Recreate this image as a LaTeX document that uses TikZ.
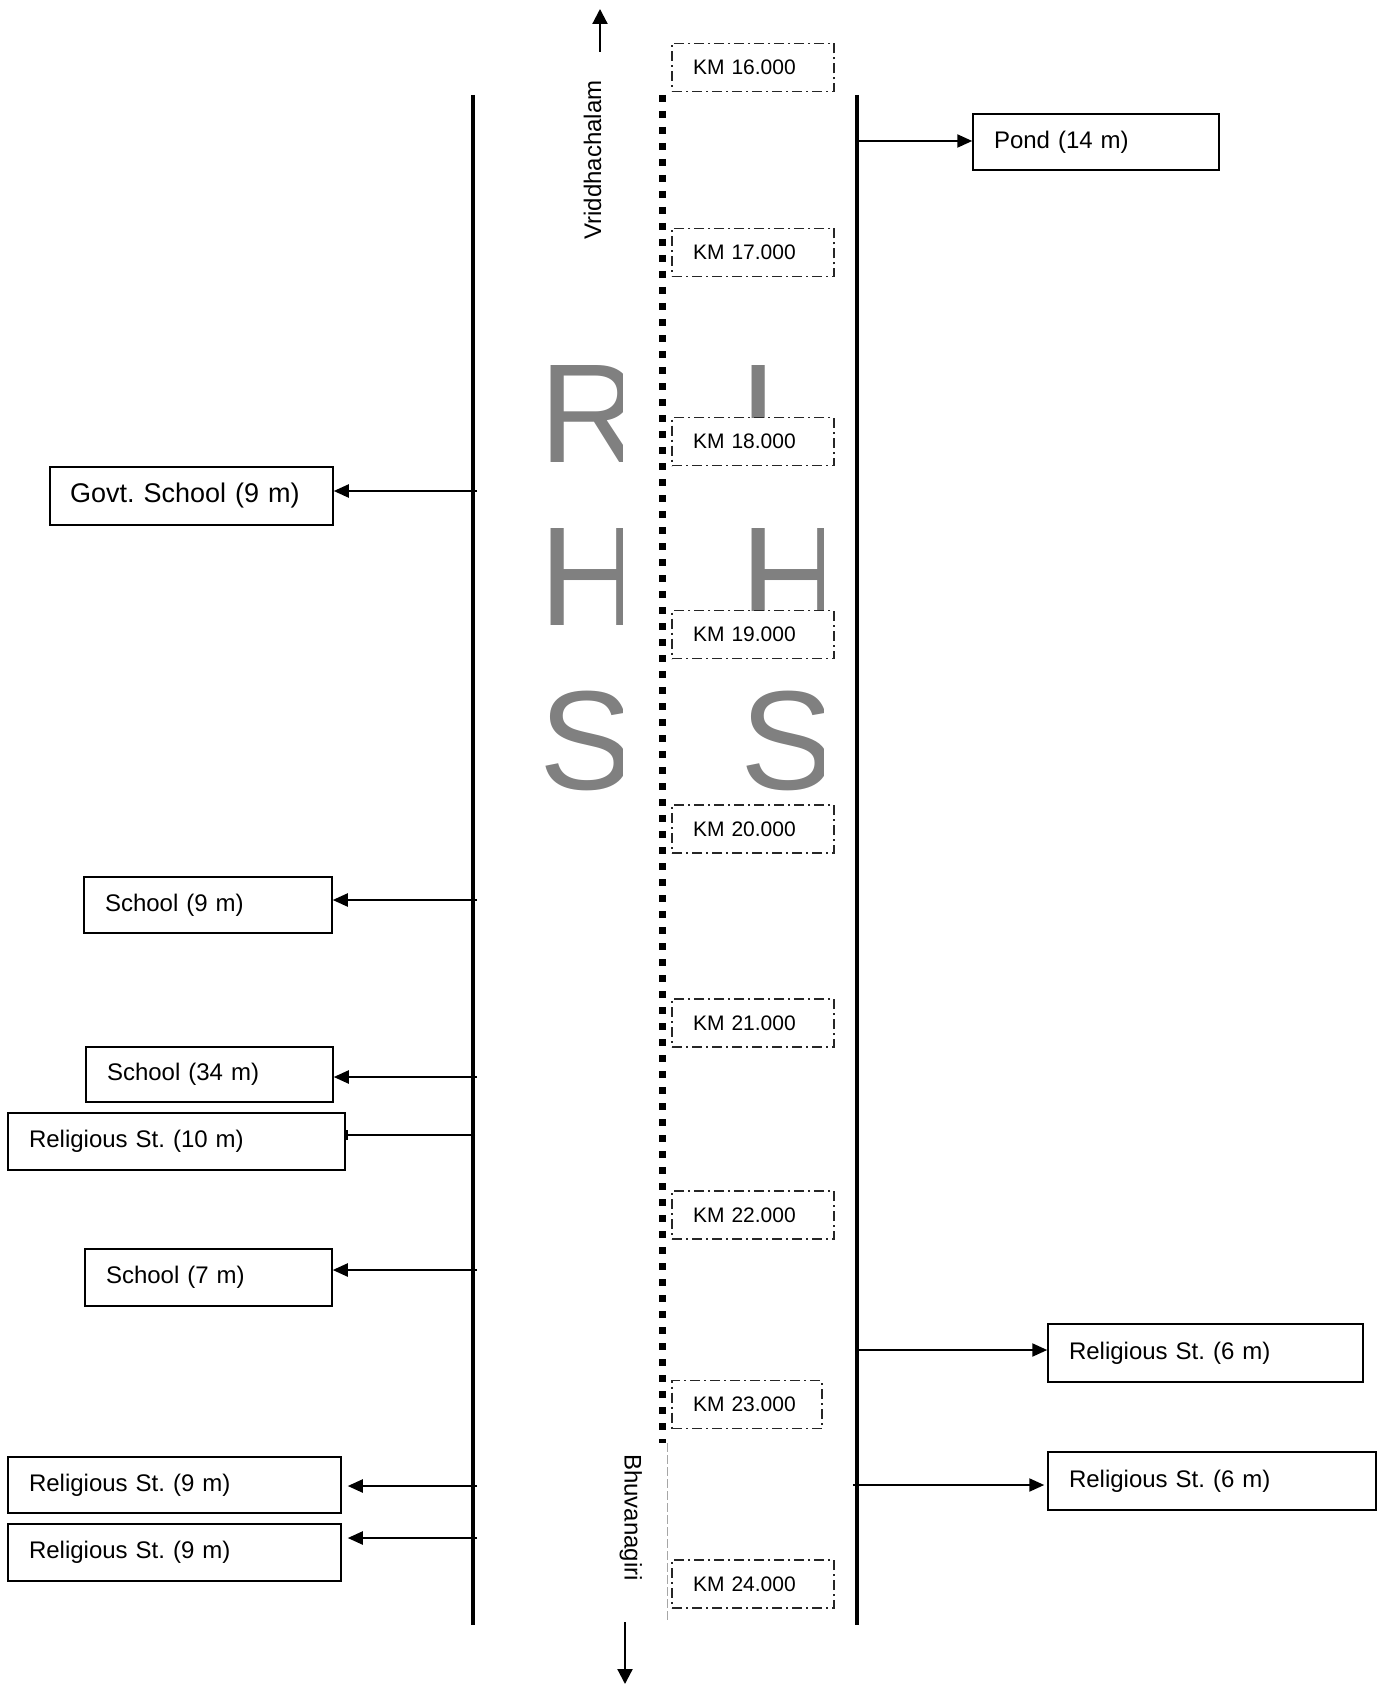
\documentclass[tikz,border=0pt]{standalone}
\usepackage{fontspec}
\setmainfont{Liberation Sans}
\usetikzlibrary{arrows.meta}
\frenchspacing

\begin{document}
\begin{tikzpicture}[x=1pt,y=-1pt,
  road/.style={line width=4pt},
  arr/.style={line width=2.2pt,-{Triangle[length=15pt,width=13pt]}},
  box/.style={draw,line width=1.5pt,inner xsep=21pt,inner ysep=0pt,minimum height=56pt,align=left,font=\fontsize{24}{28}\selectfont},
  km/.style={draw=black!85,fill=white,line width=1.2pt,dash pattern=on 10pt off 4pt on 2pt off 4pt,inner xsep=21pt,inner ysep=0pt,text width=120pt,minimum height=48pt,align=left,font=\fontsize{21}{25}\selectfont},
  big/.style={text=black!50,inner sep=0pt,anchor=base west,font=\fontsize{141}{160}\selectfont}]
\useasboundingbox (0,0) rectangle (1381,1685);

\coordinate (LT) at (473,95);
\coordinate (LB) at (473,1625);
\coordinate (RT) at (857,95);
\coordinate (RB) at (857,1625);
\coordinate (MT) at (662.5,95);
\coordinate (MB) at (662.5,1443);
\coordinate (ME) at (667,1622);
\coordinate (MG) at (667,1443);

\draw[road] (LT) -- (LB);
\draw[road] (RT) -- (RB);
\draw[line width=7pt,dash pattern=on 7pt off 9pt] (MT) -- (MB);% median
\draw[black!35,line width=1pt,dash pattern=on 9pt off 3pt] (MG) -- (ME);

% RHS and LHS
\begin{scope}
\clip (530,300) rectangle (622,820);
\foreach \c/\y in {R/462,H/625,S/789}
  \node[big] (r\c) at (539,\y) {\c};
\end{scope}
\begin{scope}
\clip (730,300) rectangle (823,820);
\foreach \c/\y in {L/462,H/625,S/789}
  \node[big] (l\c) at (740,\y) {\c};
\end{scope}

\foreach \k/\y in {16/67.5,17/252.5,18/441.5,19/634.5,20/829,21/1023,22/1215,24/1584}
  \node[km] (km\k) at (753,\y) {KM \k.000};
\node[km,text width=108pt] (km23) at (747,1404.5) {KM 23.000};

\node[rotate=90,inner sep=0pt,font=\fontsize{24}{28}\selectfont] (VR) at (592.5,160) {Vriddhachalam};
\node[rotate=-90,inner sep=0pt,font=\fontsize{24}{28}\selectfont] (BH) at (630.7,1517.5) {Bhuvanagiri};

\coordinate (U0) at (600,52);
\coordinate (U1) at (600,9);
\coordinate (D0) at (625,1622);
\coordinate (D1) at (625,1684);
\draw[arr,-{Triangle[length=15pt,width=15pt]}] (U0) -- (U1);
\draw[arr,-{Triangle[length=15pt,width=15pt]}] (D0) -- (D1);

% left side
\node[box,inner xsep=20pt,text width=243pt,minimum height=58pt,font=\fontsize{27}{31}\selectfont] (GS) at (191.5,496) {Govt. School (9 m)};
\node[box,text width=206pt] (S1) at (208,905) {School (9 m)};
\node[box,text width=205pt,minimum height=55pt] (S2) at (209.5,1074.5) {School (34 m)};
\node[box,text width=295pt,minimum height=57pt] (R1) at (176.5,1141.5) {Religious St. (10 m)};
\node[box,text width=205pt,minimum height=57pt] (S3) at (208.5,1277.5) {School (7 m)};
\node[box,text width=291pt] (R2) at (174.5,1485) {Religious St. (9 m)};
\node[box,text width=291pt,minimum height=57pt] (R3) at (174.5,1552.5) {Religious St. (9 m)};

% right side
\node[box,text width=204pt] (P) at (1096,142) {Pond (14 m)};
\node[box,text width=273pt,minimum height=58pt] (R4) at (1205.5,1353) {Religious St. (6 m)};
\node[box,text width=286pt,minimum height=58pt] (R5) at (1212,1481) {Religious St. (6 m)};

\foreach \y/\b in {491/GS,900/S1,1077/S2,1270/S3}{
  \coordinate (c\b) at (477,\y);
  \draw[arr] (c\b) -- (c\b -| \b.east);
}
\foreach \y/\b in {1486/R2,1538/R3}{
  \coordinate (c\b) at (477,\y);
  \draw[arr,shorten >=6pt] (c\b) -- (c\b -| \b.east);
}
\coordinate (cR1) at (475,1135);
\draw[line width=2.2pt,-{Bar[width=10pt]}] (cR1) -- (cR1 -| R1.east);

\coordinate (cP) at (857,141);
\coordinate (cR4) at (857,1350);
\coordinate (cR5) at (853,1485);
\draw[arr] (cP) -- (cP -| P.west);
\draw[arr] (cR4) -- (cR4 -| R4.west);
\draw[arr,shorten >=3pt] (cR5) -- (cR5 -| R5.west);

\end{tikzpicture}
\end{document}
